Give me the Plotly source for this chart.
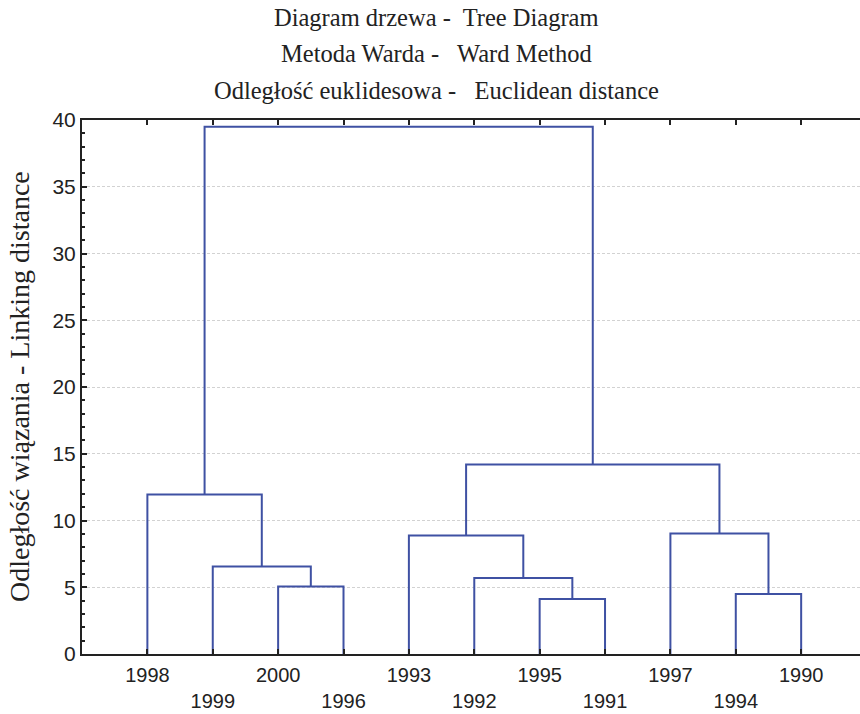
import plotly.graph_objects as go

# Leaves in dendrogram order
leaves = ["1998", "1999", "2000", "1996", "1993", "1992", "1995", "1991", "1997", "1994", "1990"]

# Linkage (Ward): each merge joins two clusters; leaf ids 0..10, new clusters 11..
merge_left = [2, 1, 0, 6, 5, 4, 9, 8, 16, 13]
merge_right = [3, 11, 12, 7, 14, 15, 10, 17, 18, 19]
merge_height = [5.05, 6.55, 11.94, 4.12, 5.69, 8.87, 4.5, 9.02, 14.2, 39.5]

y_ticks = [0, 5, 10, 15, 20, 25, 30, 35, 40]

# positions of nodes
node_x = {i: i + 1 for i in range(len(leaves))}
node_h = {i: 0.0 for i in range(len(leaves))}
xs, ys = [], []
for k, (a, b, h) in enumerate(zip(merge_left, merge_right, merge_height)):
    nid = len(leaves) + k
    xs += [node_x[a], node_x[a], node_x[b], node_x[b], None]
    ys += [node_h[a], h, h, node_h[b], None]
    node_x[nid] = (node_x[a] + node_x[b]) / 2
    node_h[nid] = h

line_color = "#3F51A3"
serif = "Liberation Serif, Times New Roman, serif"
sans = "Liberation Sans, Arial, sans-serif"

fig = go.Figure()
fig.add_trace(go.Scatter(x=xs, y=ys, mode="lines",
                         line=dict(color=line_color, width=2),
                         hoverinfo="skip", showlegend=False))

tick_text = [lab if i % 2 == 0 else "<br>" + lab for i, lab in enumerate(leaves)]

fig.update_layout(
    width=860, height=714,
    margin=dict(l=82, r=0, t=120, b=60),
    plot_bgcolor="white", paper_bgcolor="white",
    font=dict(family=sans, size=20, color="#222"),
    xaxis=dict(
        range=[0, 11.9], automargin=False,
        tickmode="array", tickvals=[i + 1 for i in range(len(leaves))], ticktext=tick_text,
        ticks="inside", ticklen=5, tickwidth=2, tickcolor="#222",
        showline=True, linecolor="#222", linewidth=2, mirror="ticks",
        showgrid=False, zeroline=False,
        tickfont=dict(family=sans, size=20, color="#222"),
        ticklabelstandoff=2,
    ),
    yaxis=dict(
        range=[0, 40], automargin=False,
        tickmode="array", tickvals=y_ticks,
        ticks="inside", ticklen=5, tickwidth=1.5, tickcolor="#222",
        minor=dict(dtick=1, ticks="inside", ticklen=3, tickcolor="#222", showgrid=False),
        showline=True, linecolor="#222", linewidth=2,
        showgrid=True, gridcolor="#d2d2d2", griddash="3px,2px", gridwidth=1,
        zeroline=False,
        tickfont=dict(family=sans, size=21, color="#222"),
    ),
)

# y-axis title
fig.add_annotation(text="Odległość wiązania - Linking distance",
                   xref="paper", yref="paper", x=(19 - 82) / 778, y=0.5,
                   xanchor="center", yanchor="middle", textangle=-90, showarrow=False,
                   font=dict(family=serif, size=28, color="#222"))

title_lines = [
    "Diagram drzewa -\u00a0 Tree Diagram",
    "Metoda Warda -\u00a0\u00a0 Ward Method",
    "Odległość euklidesowa -\u00a0\u00a0 Euclidean distance",
]
title_y = [17, 53, 90]
for txt, py in zip(title_lines, title_y):
    fig.add_annotation(text=txt, xref="paper", yref="paper",
                       x=(436 - 82) / 778, y=(654 - py) / 534,
                       xanchor="center", yanchor="middle", showarrow=False,
                       font=dict(family=serif, size=24.5, color="#222"))

fig.write_html("out.html")
